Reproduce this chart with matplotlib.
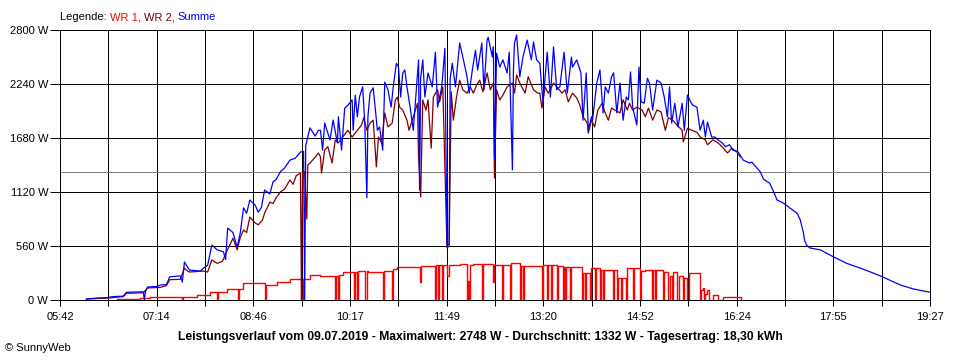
import numpy as np
import matplotlib
matplotlib.use("Agg")
import matplotlib.pyplot as plt

plt.rcParams.update({
    'font.family': ['Liberation Sans', 'DejaVu Sans'],
    'font.size': 8,
})

# ---- Daten (Zeit in Minuten seit Mitternacht, Leistung in W) ----
# Summe
t_sum = [367, 377, 387, 392, 402, 405, 421, 422, 423, 425, 434, 437, 443, 446, 456, 458,
         460, 463, 465, 475, 478, 482, 486, 491, 497, 499, 501, 506, 510, 513, 516, 519,
         522, 527, 530, 533, 536, 541, 544, 547, 551, 555, 560, 565, 570, 573, 574, 575,
         579, 584, 587, 589, 590, 591, 593, 598, 601, 605, 606, 609, 612, 615, 619, 620,
         622, 624, 626, 629, 631, 633, 634, 636, 639, 643, 645, 648, 650, 653, 656, 658,
         661, 663, 665, 667, 669, 671, 674, 677, 681, 682, 683, 684, 686, 688, 691, 695,
         698, 700, 704, 707, 709, 711, 712, 714, 717, 721, 724, 728, 730, 733, 736, 738,
         742, 744, 747, 748, 752, 753, 754, 756, 759, 762, 766, 768, 771, 772, 773, 775,
         778, 781, 785, 789, 791, 794, 797, 800, 804, 807, 810, 813, 816, 820, 823, 827,
         828, 832, 836, 838, 841, 843, 846, 847, 851, 854, 857, 859, 862, 865, 867, 870,
         873, 876, 879, 881, 883, 885, 889, 891, 893, 896, 899, 901, 904, 908, 912, 915,
         918, 920, 922, 925, 928, 932, 934, 937, 940, 942, 946, 949, 952, 954, 956, 960,
         963, 966, 970, 973, 977, 980, 985, 990, 996, 998, 1002, 1006, 1009, 1015, 1018, 1022,
         1028, 1034, 1041, 1044, 1047, 1048, 1050, 1053, 1063, 1075, 1088, 1101, 1113, 1122, 1139, 1151,
         1167]
p_sum = [10, 20, 25, 35, 40, 80, 85, 0, 85, 135, 140, 155, 160, 240, 250, 185,
         395, 340, 310, 300, 330, 360, 570, 520, 500, 420, 745, 700, 550, 700, 955, 900,
         1037, 985, 910, 960, 1140, 1100, 1225, 1250, 1330, 1370, 1450, 1470, 1535, 1540, 0, 1600,
         1785, 1700, 1760, 1760, 1660, 1555, 1835, 1660, 1865, 1630, 1900, 1555, 1990, 2020, 2075, 1760,
         2125, 1900, 2105, 2210, 1835, 1060, 1900, 2145, 2200, 1760, 1795, 1555, 2260, 2180, 2000, 2210,
         2455, 2415, 2105, 2355, 2385, 2210, 2000, 1760, 2355, 2490, 1140, 2300, 2490, 2105, 2355, 2210,
         2570, 2000, 2210, 2610, 570, 580, 2300, 2455, 2210, 2665, 2520, 2315, 2145, 2385, 2590, 2385,
         2665, 2180, 2695, 2725, 2520, 2625, 1470, 2560, 2415, 2490, 2355, 2570, 1350, 2400, 2665, 2748,
         2315, 2520, 2695, 2490, 2675, 2490, 2455, 2050, 2570, 2105, 2625, 2180, 2210, 2570, 2145, 2520,
         2415, 2490, 2355, 1865, 2355, 1760, 1900, 1865, 2250, 2385, 1940, 2210, 2145, 2315, 2355, 1940,
         2250, 1865, 2105, 2075, 2365, 2000, 1815, 2415, 2055, 2040, 2300, 2250, 1970, 2280, 2250, 2105,
         1900, 2210, 1835, 2040, 1795, 2040, 1760, 2125, 2055, 2020, 2000, 1760, 1865, 1690, 1845, 1690,
         1690, 1660, 1630, 1590, 1610, 1555, 1535, 1450, 1420, 1430, 1380, 1330, 1255, 1210, 1140, 1037,
         1005, 955, 900, 830, 695, 620, 570, 540, 520, 450, 380, 330, 280, 240, 155, 115,
         80]

# WR 2
t_wr2 = [367, 387, 402, 405, 421, 425, 437, 443, 446, 456, 460, 463, 465, 478, 482, 486,
         491, 496, 500, 506, 510, 513, 516, 519, 522, 527, 530, 534, 536, 541, 544, 547,
         551, 555, 560, 563, 566, 570, 571, 572, 574, 576, 577, 579, 584, 587, 589, 590,
         593, 596, 600, 603, 606, 610, 615, 619, 624, 628, 630, 633, 636, 639, 642, 644,
         647, 650, 653, 657, 660, 662, 664, 667, 671, 673, 677, 681, 682, 684, 686, 689,
         691, 694, 696, 700, 702, 705, 709, 711, 713, 715, 718, 721, 724, 728, 731, 734,
         737, 740, 743, 747, 750, 753, 754, 756, 759, 762, 766, 771, 773, 775, 778, 783,
         786, 791, 795, 797, 799, 802, 805, 807, 810, 814, 818, 821, 824, 828, 832, 835,
         838, 842, 843, 846, 849, 852, 856, 859, 862, 865, 868, 873, 876, 880, 882, 885,
         889, 894, 897, 900, 904, 908, 912, 916, 919, 923, 927, 932, 933, 937, 941, 946,
         949, 954, 956, 961, 966, 971, 975, 979, 984, 987]
p_wr2 = [10, 20, 35, 70, 75, 125, 130, 150, 210, 215, 330, 300, 290, 300, 290, 415,
         380, 400, 500, 640, 520, 650, 725, 700, 860, 800, 780, 830, 900, 1015, 1000, 1060,
         1120, 1150, 1245, 1200, 1290, 1315, 0, 1320, 1330, 840, 1400, 1420, 1480, 1525, 1485, 1315,
         1555, 1590, 1420, 1660, 1630, 1690, 1760, 1690, 1760, 1815, 1890, 1760, 1835, 1865, 1380, 1690,
         1630, 1940, 1795, 1835, 2075, 2105, 2000, 1970, 1865, 1760, 1900, 2040, 1485, 1070, 2075, 1970,
         2075, 1575, 2105, 2180, 2055, 2210, 540, 560, 2160, 1865, 2105, 2280, 2180, 2145, 2210, 2145,
         2230, 2280, 2160, 2355, 2180, 2250, 1265, 2180, 2075, 2125, 2210, 2250, 2145, 2335, 2250, 2145,
         2315, 2180, 2145, 2145, 1990, 2210, 2145, 2180, 2250, 2200, 2145, 2180, 2055, 2145, 2095, 2020,
         1900, 1835, 1730, 1865, 1795, 1970, 2040, 1940, 1865, 1990, 1970, 1940, 2075, 1970, 2040, 1970,
         2000, 1970, 1900, 1990, 1865, 1970, 1950, 1760, 1890, 1865, 1815, 1760, 1640, 1780, 1760, 1740,
         1690, 1660, 1610, 1660, 1630, 1575, 1525, 1575, 1535, 1485]

# WR 1
t_wr1 = [396, 418, 427, 458, 459, 472, 484, 491, 492, 500, 511, 512, 516, 536, 537, 548,
         560, 571, 572, 579, 589, 603, 604, 606, 607, 610, 621, 622, 624, 625, 631, 633,
         634, 648, 649, 657, 658, 662, 683, 684, 698, 699, 700, 701, 704, 705, 709, 711,
         721, 728, 729, 730, 731, 734, 742, 743, 753, 754, 761, 762, 769, 770, 778, 779,
         781, 782, 799, 800, 804, 805, 808, 809, 813, 814, 819, 820, 821, 822, 826, 827,
         837, 838, 840, 841, 845, 846, 849, 850, 854, 855, 857, 858, 866, 867, 870, 871,
         874, 875, 879, 880, 885, 886, 892, 893, 897, 903, 904, 906, 907, 914, 915, 919,
         920, 922, 923, 927, 929, 933, 934, 937, 938, 949, 950, 952, 953, 954, 956, 957,
         961, 966, 971, 987, 988]
p_wr1 = [10, 20, 30, 0, 30, 50, 85, 0, 85, 115, 0, 110, 175, 0, 155, 185,
         215, 0, 215, 260, 250, 0, 250, 0, 260, 290, 0, 290, 0, 300, 0, 300,
         290, 0, 300, 0, 320, 340, 185, 350, 0, 360, 0, 360, 0, 360, 250, 360,
         370, 0, 200, 0, 360, 370, 0, 370, 185, 360, 0, 360, 0, 380, 0, 350,
         0, 350, 0, 360, 0, 360, 0, 360, 0, 350, 0, 345, 0, 345, 0, 345,
         0, 280, 0, 280, 0, 330, 0, 330, 0, 310, 0, 310, 0, 310, 0, 230,
         0, 230, 0, 330, 0, 330, 0, 300, 310, 0, 310, 0, 310, 0, 290, 0,
         250, 0, 290, 0, 250, 0, 230, 0, 280, 0, 100, 120, 0, 60, 100, 0,
         50, 0, 30, 30, 0]

AVG = 1332
T_START, T_END = 342, 1167
x_labels = ['05:42', '07:14', '08:46', '10:17', '11:49', '13:20', '14:52', '16:24', '17:55', '19:27']
y_ticks = [0, 560, 1120, 1680, 2240, 2800]

LW = 0.72  # 1 Pixel bei 100 dpi

# ---- Plot ----
fig = plt.figure(figsize=(9.6, 3.6), dpi=100)
ax = fig.add_axes([60 / 960, 60 / 360, 870 / 960, 270 / 360])

x_grid = np.linspace(T_START, T_END, 19)
for xg in x_grid:
    ax.axvline(xg, color='black', lw=LW, antialiased=False, zorder=1)
for yg in y_ticks:
    ax.axhline(yg, color='black', lw=LW, antialiased=False, zorder=1)
ax.axhline(AVG, color='#808080', lw=LW, antialiased=False, zorder=1)

ax.plot(t_wr1, p_wr1, color='#FF0000', lw=1.0, drawstyle='steps-post', zorder=2)
ax.plot(t_wr2, p_wr2, color='#800000', lw=0.9, zorder=3)
ax.plot(t_sum, p_sum, color='#0000FF', lw=0.9, zorder=4)

ax.set_xlim(T_START, T_END)
ax.set_ylim(0, 2800)
ax.set_xticks(x_grid)
tick_texts = []
for i in range(len(x_grid)):
    tick_texts.append(x_labels[i // 2] if i % 2 == 0 else '')
ax.set_xticklabels(tick_texts)
ax.set_yticks(y_ticks)
ax.set_yticklabels([f'{v} W' for v in y_ticks])
ax.tick_params(axis='y', length=7, width=LW, pad=1.5, labelsize=8)
ax.tick_params(axis='x', length=4, width=LW, pad=5, labelsize=8)
for s in ax.spines.values():
    s.set_linewidth(LW)
    s.set_antialiased(False)

# Legende oben
y_leg = 1 - 17 / 360
parts = [('Legende: ', 'black'), ('WR 1, ', '#FF0000'), ('WR 2, ', '#800000'), ('Summe', '#0000FF')]
x0 = 60 / 960
renderer = fig.canvas.get_renderer()
for txt, col in parts:
    t = fig.text(x0, y_leg, txt, color=col, fontsize=8, va='center', ha='left')
    bb = t.get_window_extent(renderer=renderer)
    x0 += bb.width / 960

fig.text(480 / 960, 1 - 337 / 360,
         'Leistungsverlauf vom 09.07.2019 - Maximalwert: 2748 W - Durchschnitt: 1332 W - Tagesertrag: 18,30 kWh',
         fontsize=8.7, fontweight='bold', ha='center', va='center')
fig.text(5 / 960, 1 - 348 / 360, '© SunnyWeb', fontsize=8, ha='left', va='center')

fig.savefig('out.png', dpi=100)
